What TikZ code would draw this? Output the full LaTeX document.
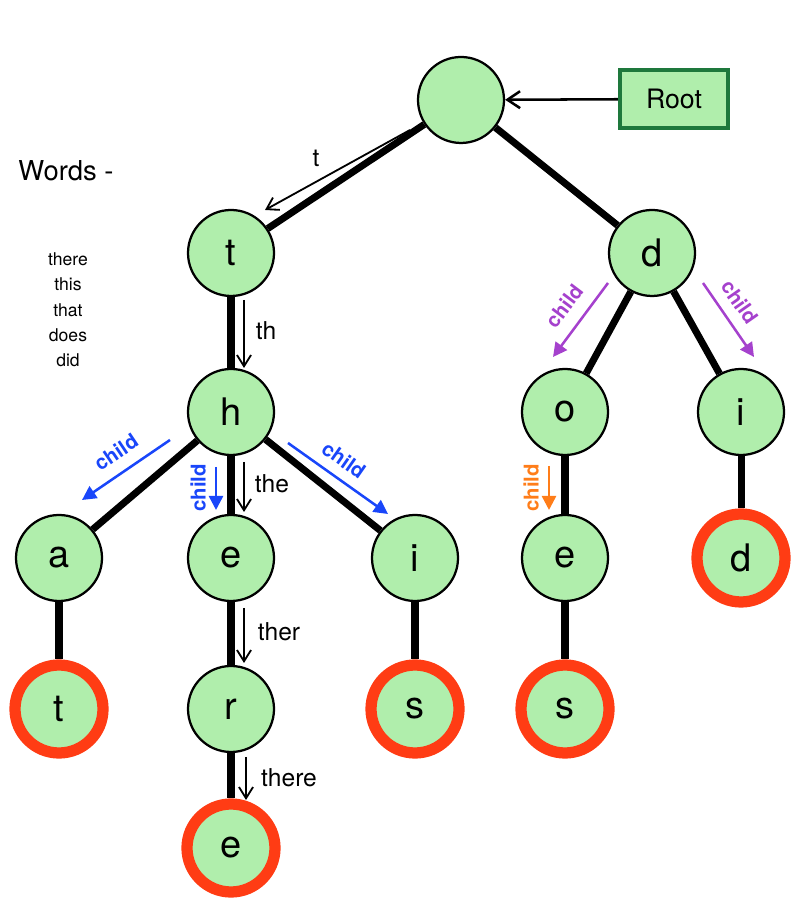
\documentclass[tikz,border=0pt]{standalone}
\usepackage{fontspec}
\setmainfont{TeX Gyre Heros}
\usepackage{tikz}
\usetikzlibrary{arrows.meta}

\definecolor{nodegreen}{RGB}{176,238,172}
\definecolor{ringred}{RGB}{255,60,20}
\definecolor{boxgreen}{RGB}{30,120,60}
\definecolor{childblue}{RGB}{25,70,250}
\definecolor{childpurple}{RGB}{165,65,205}
\definecolor{childorange}{RGB}{255,125,25}

\begin{document}
\begin{tikzpicture}[
  letter/.style={circle,draw=black,line width=1.6pt,fill=nodegreen,minimum size=2.15cm,inner sep=0pt,font=\fontsize{27}{27}\selectfont},
  wordend/.style={letter,draw=ringred,line width=8pt,minimum size=2.2cm},
  edge/.style={line width=5pt},
  trailarrow/.style={black,line width=1.3pt,-{Straight Barb[length=8pt,width=10pt]}},
  childarrow/.style={line width=1.8pt,-{Triangle[length=10pt,width=10pt]}},
  trailtext/.style={font=\fontsize{17.5}{17.5}\selectfont},
  childtext/.style={inner sep=0pt,font=\bfseries\fontsize{14.5}{14.5}\selectfont}]
\useasboundingbox (0,0) rectangle (19.775,22.5);

%Nodes of the trie
\node[letter] (root) at (11.525,20.0) {};
\node[draw=boxgreen,line width=3pt,fill=nodegreen,minimum width=2.7cm,minimum height=1.45cm,font=\fontsize{19}{19}\selectfont] (rootbox) at (16.85,20.025) {Root};
\node[letter] (t) at (5.775,16.175) {t};
\node[letter] (d) at (16.3,16.175) {d};
\node[letter] (h) at (5.775,12.2) {h};
\node[letter] (o) at (14.125,12.2) {o};
\node[letter] (di) at (18.525,12.2) {i};
\node[letter] (ha) at (1.475,8.55) {a};
\node[letter] (he) at (5.775,8.55) {e};
\node[letter] (hi) at (10.375,8.55) {i};
\node[letter] (oe) at (14.125,8.55) {e};
\node[wordend] (did) at (18.525,8.55) {d};
\node[wordend] (that) at (1.475,4.775) {t};
\node[letter] (r) at (5.775,4.775) {r};
\node[wordend] (this) at (10.375,4.775) {s};
\node[wordend] (does) at (14.125,4.775) {s};
\node[wordend] (there) at (5.775,1.3) {e};

%Edges
\draw[edge] (root) -- (t);
\draw[edge] (root) -- (d);
\draw[edge] (t) -- (h);
\draw[edge] (h) -- (ha);
\draw[edge] (h) -- (he);
\draw[edge] (h) -- (hi);
\draw[edge] (ha) -- (that);
\draw[edge] (he) -- (r);
\draw[edge] (r) -- (there);
\draw[edge] (hi) -- (this);
\draw[edge] (d) -- (o);
\draw[edge] (d) -- (di);
\draw[edge] (o) -- (oe);
\draw[edge] (oe) -- (does);
\draw[edge] (di) -- (did);

% Root pointer
\draw[line width=1.8pt,-{Straight Barb[length=9pt,width=12pt]}] (rootbox) -- (root);

% Words
\node (words) at (1.65,18.225) {\fontsize{19.5}{19.5}\selectfont Words -};
\node[align=center,font=\fontsize{12.5}{18}\selectfont] (list) at (1.7,14.75) {there\\this\\that\\does\\did};

% Trail of "there"
\draw[trailarrow] (10.25,19.25) -- (6.625,17.25);
\node[trailtext] (p1) at (7.9,18.55) {t};
\draw[trailarrow] (6.1,15.0) -- (6.1,13.3);
\node[trailtext] (p2) at (6.65,14.225) {th};
\draw[trailarrow] (6.1,10.95) -- (6.1,9.7);
\node[trailtext] (p3) at (6.8,10.4) {the};
\draw[trailarrow] (6.1,7.3) -- (6.1,5.925);
\node[trailtext] (p4) at (6.975,6.7) {ther};
\draw[trailarrow] (6.15,3.575) -- (6.15,2.5);
\node[trailtext] (p5) at (7.225,3.05) {there};

% Children of h
\draw[childarrow,childblue] (4.25,11.5) -- (2.05,10.0);
\node[childtext,text=childblue,rotate=34] (c1) at (2.9,11.2) {child};
\draw[childarrow,childblue] (5.4,10.825) -- (5.4,9.75);
\node[childtext,text=childblue,rotate=90] (c2) at (4.95,10.3) {child};
\draw[childarrow,childblue] (7.2,11.425) -- (9.7,9.65);
\node[childtext,text=childblue,rotate=-35] (c3) at (8.6,11.0) {child};

% Children of d
\draw[childarrow,childpurple] (15.2,15.425) -- (13.825,13.575);
\node[childtext,text=childpurple,rotate=53] (c4) at (14.1,14.85) {child};
\draw[childarrow,childpurple] (17.575,15.425) -- (18.85,13.575);
\node[childtext,text=childpurple,rotate=-55] (c5) at (18.5,14.95) {child};

% Child of o
\draw[childarrow,childorange] (13.725,10.85) -- (13.725,9.75);
\node[childtext,text=childorange,rotate=90] (c6) at (13.275,10.3) {child};

\end{tikzpicture}
\end{document}
